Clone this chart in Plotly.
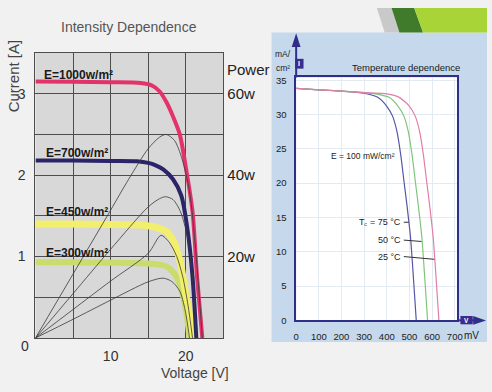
import plotly.graph_objects as go

W, H = 492, 392
SANS = "Liberation Sans, Arial, sans-serif"

# ---------------- Left chart data (Intensity dependence) ----------------
v_1000 = [0, 5, 10, 14, 15.5, 16.5, 17.4, 18.3, 19.2, 20.0, 20.9, 21.5, 22.2]
i_1000 = [3.15, 3.145, 3.14, 3.13, 3.1, 3.03, 2.9, 2.72, 2.5, 2.1, 1.55, 0.75, 0]
v_700 = [0, 5, 10, 13.5, 15, 16, 17, 18.3, 19.4, 20.2, 20.9, 21.4]
i_700 = [2.18, 2.18, 2.175, 2.17, 2.15, 2.12, 2.07, 1.95, 1.75, 1.35, 0.75, 0]
v_450 = [0, 5, 10, 14.4, 16, 17.4, 18.4, 19.2, 20.0, 20.5, 20.9]
i_450 = [1.40, 1.40, 1.395, 1.385, 1.36, 1.31, 1.18, 0.95, 0.54, 0.28, 0]
v_300 = [0, 5, 10, 15, 16.5, 17.4, 18.4, 19.2, 20.0, 20.5]
i_300 = [0.93, 0.93, 0.925, 0.915, 0.9, 0.88, 0.8, 0.66, 0.35, 0]

# power curves [W]
pv_1000 = [0, 5, 10, 12.4, 15, 16.5, 17.4, 18.5, 19.5, 20.5, 21.3, 22.2]
p_1000 = [0, 15.7, 31.4, 39, 46.5, 49.3, 50, 48.5, 44, 36, 22, 0]
pv_700 = [0, 5, 10, 15, 16.5, 17.3, 18.3, 19.3, 20.2, 20.9, 21.4]
p_700 = [0, 10.9, 21.8, 32.2, 34.2, 34.7, 34, 31, 25, 15, 0]
pv_450 = [0, 5, 10, 15, 16.7, 17.8, 18.8, 19.6, 20.3, 20.9]
p_450 = [0, 7, 14, 20.8, 25.2, 23.5, 20, 15, 8, 0]
pv_300 = [0, 5, 10, 15, 17, 18.2, 19.2, 19.9, 20.5]
p_300 = [0, 4.6, 9.3, 13.8, 14.7, 13.8, 11.5, 7, 0]

# ---------------- Right chart data (Temperature dependence) ----------------
t_v75 = [0, 100, 200, 300, 360, 400, 425, 445, 462, 475, 490, 505, 518, 530]
t_i75 = [33.8, 33.6, 33.4, 33.1, 32.5, 31.2, 29.8, 27.5, 24, 20.5, 16.5, 12, 6, 0]
t_v50 = [0, 100, 200, 300, 350, 410, 450, 475, 495, 512, 525, 540, 555, 568, 580]
t_i50 = [33.8, 33.6, 33.4, 33.2, 33, 32.5, 31.2, 29.8, 27.5, 24, 20.5, 16.5, 12, 6, 0]
t_v25 = [0, 100, 200, 300, 400, 455, 500, 525, 545, 562, 575, 590, 605, 618, 630]
t_i25 = [33.8, 33.6, 33.4, 33.2, 33, 32.5, 31.2, 29.8, 27.5, 24, 20.5, 16.5, 12, 6, 0]

left_x_ticks = [10, 20]
left_y_ticks = [1, 2, 3]
power_ticks = [20, 40, 60]
power_text = ["20w", "40w", "60w"]
right_x_ticks = [0, 100, 200, 300, 400, 500, 600, 700]
right_y_ticks = [0, 5, 10, 15, 20, 25, 30, 35]


def px(x):
    return x / W


def py(y):
    return 1 - y / H


fig = go.Figure()

# left I-V curves
for v, i, col, w in [
    (v_300, i_300, "#c9dc6c", 6),
    (v_450, i_450, "#f2ef6c", 7),
    (v_700, i_700, "#2b2468", 4),
    (v_1000, i_1000, "#e2336b", 4),
]:
    fig.add_trace(go.Scatter(x=v, y=i, mode="lines", line=dict(color=col, width=w, shape="spline", smoothing=0.8),
                             xaxis="x", yaxis="y", showlegend=False, hoverinfo="skip"))

# power curves
for v, p in [(pv_1000, p_1000), (pv_700, p_700), (pv_450, p_450), (pv_300, p_300)]:
    fig.add_trace(go.Scatter(x=v, y=p, mode="lines", line=dict(color="#3a3a3a", width=0.8, shape="spline", smoothing=0.8),
                             xaxis="x", yaxis="y3", showlegend=False, hoverinfo="skip"))

# right temperature curves
for v, i, col in [(t_v75, t_i75, "#5656a6"), (t_v50, t_i50, "#7dc77a"), (t_v25, t_i25, "#e07fa6")]:
    fig.add_trace(go.Scatter(x=v, y=i, mode="lines", line=dict(color=col, width=1.2, shape="spline", smoothing=0.6),
                             xaxis="x2", yaxis="y2", showlegend=False, hoverinfo="skip"))

# leader lines for temperature labels
for xs, ys in [([475, 497], [14.3, 14.3]), ([475, 553], [11.7, 11.5]), ([475, 610], [9.3, 8.9])]:
    fig.add_trace(go.Scatter(x=xs, y=ys, mode="lines", line=dict(color="#333", width=1),
                             xaxis="x2", yaxis="y2", showlegend=False, hoverinfo="skip"))

shapes = [
    dict(type="rect", xref="paper", yref="paper", x0=px(33), x1=px(224), y0=py(342), y1=py(51),
         fillcolor="#d8d8d8", line=dict(width=0), layer="below"),
    dict(type="rect", xref="paper", yref="paper", x0=px(273), x1=1, y0=py(346), y1=py(30),
         fillcolor="#c5d8ec", line=dict(width=0), layer="below"),
    dict(type="rect", xref="paper", yref="paper", x0=px(298), x1=px(462), y0=py(324), y1=py(76),
         fillcolor="#ffffff", line=dict(width=0), layer="below"),
]


def poly(pts, color, layer="below"):
    d = "M " + " L ".join(f"{px(a):.4f},{py(b):.4f}" for a, b in pts) + " Z"
    return dict(type="path", xref="paper", yref="paper", path=d, fillcolor=color, line=dict(width=0), layer=layer)


shapes.append(poly([(380, 5), (395, 5), (403, 30), (388, 30)], "#c9c9c9"))
shapes.append(poly([(395, 5), (418, 5), (427, 30), (403, 30)], "#3f7b2b"))
shapes.append(poly([(418, 5), (492, 5), (492, 30), (427, 30)], "#a9d437"))

# axis extension lines and arrowheads (right chart)
NAVY = "#2f2f8a"
shapes.append(dict(type="line", xref="paper", yref="paper", x0=px(298), x1=px(298), y0=py(76), y1=py(44),
                   line=dict(color=NAVY, width=2), layer="above"))
shapes.append(poly([(293.5, 45), (302.5, 45), (298, 31)], NAVY, "above"))
shapes.append(dict(type="line", xref="paper", yref="paper", x0=px(462), x1=px(480), y0=py(324), y1=py(324),
                   line=dict(color=NAVY, width=2), layer="above"))
shapes.append(poly([(478, 319.5), (478, 328.5), (491, 324)], NAVY, "above"))
# unit boxes
shapes.append(dict(type="rect", xref="paper", yref="paper", x0=px(297), x1=px(305.5), y0=py(67), y1=py(57),
                   fillcolor="#3b2b8c", line=dict(width=0), layer="above"))
shapes.append(dict(type="rect", xref="paper", yref="paper", x0=px(465), x1=px(477.5), y0=py(328), y1=py(319.5),
                   fillcolor="#3b2b8c", line=dict(width=0), layer="above"))

ann = []


def txt(x, y, s, size, color="#333", bold=False, family=SANS, xanchor="center", angle=0):
    ann.append(dict(xref="paper", yref="paper", x=px(x), y=py(y), text=f"<b>{s}</b>" if bold else s,
                    showarrow=False, xanchor=xanchor, yanchor="middle", textangle=angle,
                    font=dict(size=size, color=color, family=family)))


txt(128, 25, "Intensity Dependence", 14, "#555")
txt(11, 74, "Current [A]", 15, "#444", angle=-90)
txt(195, 378, "Voltage [V]", 14, "#444")
txt(250, 68, "Power", 15, "#222")
txt(22, 350, "0", 14, "#333")
txt(40, 73, "E=1000w/m²", 12, "#1a1a1a", bold=True, xanchor="left")
txt(42, 153, "E=700w/m²", 12, "#1a1a1a", bold=True, xanchor="left")
txt(42, 213, "E=450w/m²", 12, "#1a1a1a", bold=True, xanchor="left")
txt(42, 255, "E=300w/m²", 12, "#1a1a1a", bold=True, xanchor="left")

txt(410, 66, "Temperature dependence", 9.5, "#1a1a1a")
txt(366, 156, "E = 100 mW/cm²", 8.5, "#222")
txt(476, 339, "mV", 10, "#222")
txt(285, 52, "mA/", 8.5, "#222")
txt(285, 66, "cm²", 8.5, "#222")
txt(407, 224, "T꜀ = 75 °C", 9, "#222", xanchor="right")
txt(407, 242, "50 °C", 9, "#222", xanchor="right")
txt(407, 259, "25 °C", 9, "#222", xanchor="right")
txt(301.3, 62, "<b>I</b>", 7, "#ffffff")
txt(471.3, 323.8, "<b>V</b>", 6.5, "#ffffff")

GRID = dict(showgrid=True, gridcolor="#4d4d4d", gridwidth=1)
fig.update_layout(
    width=W, height=H, margin=dict(l=0, r=0, t=0, b=0),
    paper_bgcolor="#f1f1f1", plot_bgcolor="rgba(0,0,0,0)",
    shapes=shapes, annotations=ann,
    xaxis=dict(domain=[px(33), px(224)], range=[0, 25], tickvals=left_x_ticks, **GRID,
               minor=dict(dtick=5, tick0=0, showgrid=True, gridcolor="#4d4d4d", gridwidth=1),
               zeroline=False, showline=True, linecolor="#4d4d4d", mirror=True, ticks="", ticklabelstandoff=5,
               tickfont=dict(size=14, color="#333", family=SANS), anchor="y"),
    yaxis=dict(domain=[py(342), py(51)], range=[0, 3.5], tickvals=left_y_ticks, **GRID,
               minor=dict(dtick=0.5, tick0=0, showgrid=True, gridcolor="#4d4d4d", gridwidth=1),
               zeroline=False, showline=True, linecolor="#4d4d4d", mirror=True, ticks="", ticklabelstandoff=6,
               tickfont=dict(size=14, color="#333", family=SANS), anchor="x"),
    yaxis3=dict(overlaying="y", side="right", anchor="x", range=[0, 70], tickvals=power_ticks, ticktext=power_text,
                showgrid=False, zeroline=False, showline=False, ticks="", ticklabelstandoff=3,
                tickfont=dict(size=15, color="#222", family=SANS)),
    xaxis2=dict(domain=[px(298), px(462)], range=[0, 712], tickvals=right_x_ticks,
                showgrid=True, gridcolor="#e4eaf1", zeroline=False,
                showline=True, linecolor=NAVY, linewidth=1.5, mirror=True, ticks="", ticklabelstandoff=6,
                tickfont=dict(size=9.5, color="#222", family=SANS), anchor="y2"),
    yaxis2=dict(domain=[py(324), py(76)], range=[0, 35.4], tickvals=right_y_ticks,
                showgrid=True, gridcolor="#e4eaf1", zeroline=False,
                showline=True, linecolor=NAVY, linewidth=1.5, mirror=True, ticks="", ticklabelstandoff=6,
                tickfont=dict(size=9.5, color="#222", family=SANS), anchor="x2"),
)

fig.write_html("out.html", config={"displayModeBar": False},
               post_script="document.body.style.margin='0';document.body.style.overflow='hidden';")
